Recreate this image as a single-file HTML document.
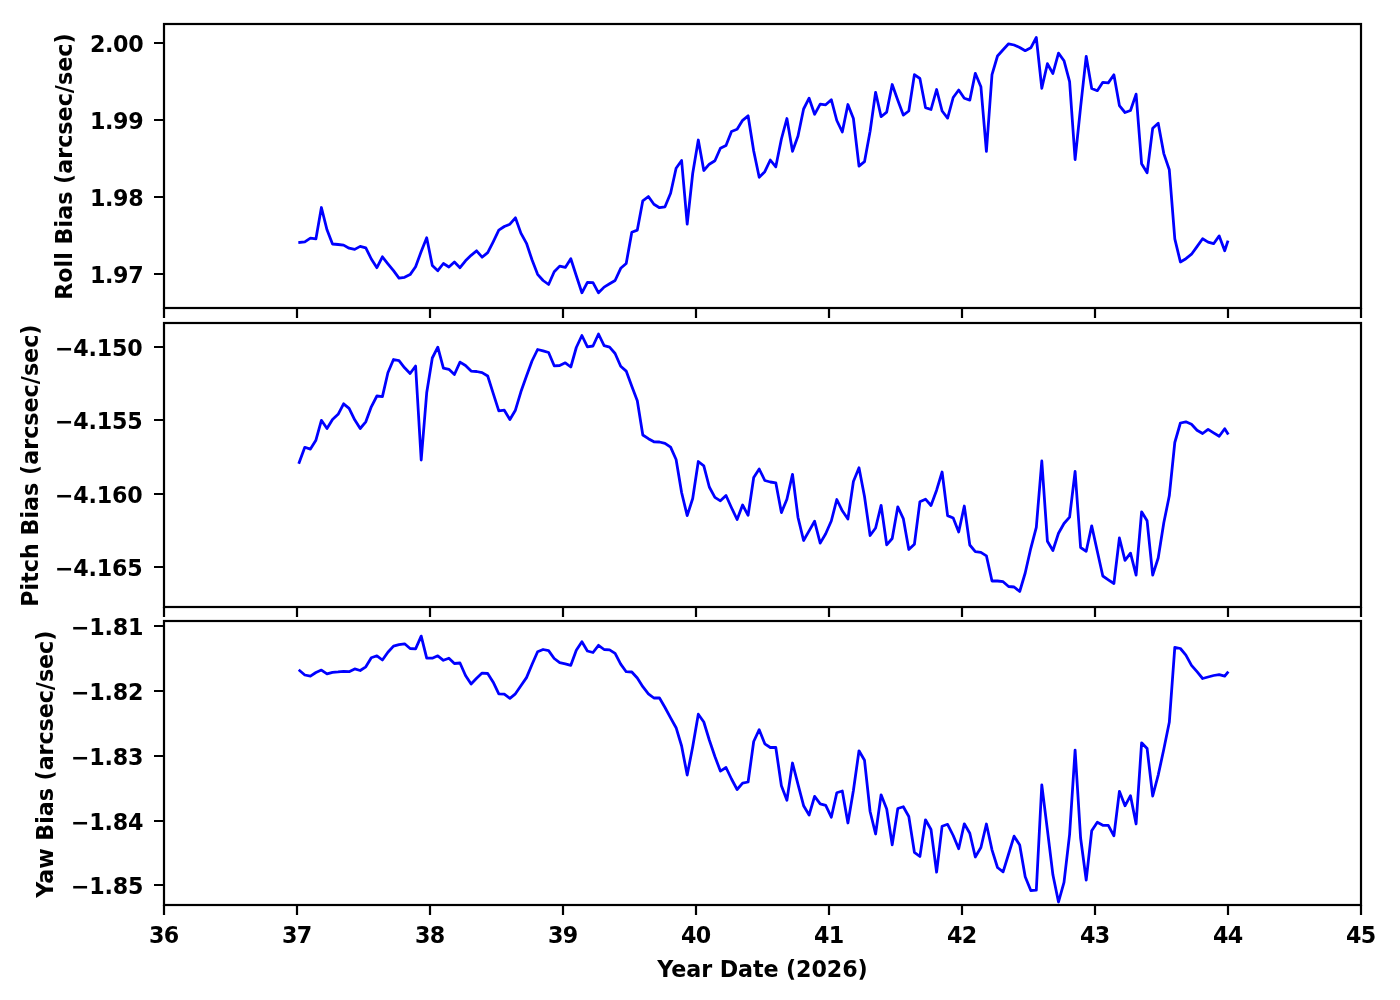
<!DOCTYPE html>
<html lang="en"><head><meta charset="utf-8"><title>Bias plots</title>
<style>html,body{margin:0;padding:0;background:#fff}body{width:1400px;height:1000px;overflow:hidden}svg{display:block}text{font-family:"DejaVu Sans","Liberation Sans",sans-serif;font-weight:bold;font-size:22.22px;fill:#000}.sp{stroke:#000;stroke-width:2.2;fill:none;stroke-linecap:square}.tk{stroke:#000;stroke-width:2.2;fill:none;stroke-linecap:butt}.ln{stroke:#0000ff;stroke-width:2.78;fill:none;stroke-linejoin:round;stroke-linecap:square}</style></head><body>
<svg width="1400" height="1000" viewBox="0 0 1400 1000">
<rect width="1400" height="1000" fill="#fff"/>
<polyline class="ln" points="299.7,242.4 304.8,241.8 310.4,238.2 315.9,238.9 321.4,207.5 327.0,229.8 332.5,244.0 338.1,244.5 343.6,245.1 349.1,248.2 354.7,249.4 360.2,246.4 365.8,247.8 371.3,259.0 376.9,267.7 382.4,256.8 387.9,263.8 393.5,270.7 399.0,278.1 404.6,277.3 410.1,274.6 415.6,266.8 421.2,251.5 426.7,237.8 432.3,265.5 437.8,270.7 443.4,263.5 448.9,267.0 454.4,262.0 460.0,267.7 465.5,260.8 471.1,255.3 476.6,250.8 482.1,257.2 487.7,252.7 493.2,241.8 498.8,230.2 504.3,226.5 509.9,224.2 515.4,217.8 520.9,233.1 526.5,243.3 532.0,259.8 537.6,274.3 543.1,280.5 548.6,284.5 554.2,271.8 559.7,266.1 565.3,267.4 570.8,258.7 576.3,275.8 581.9,292.8 587.4,282.3 593.0,282.7 598.5,292.8 604.1,287.1 609.6,283.8 615.1,280.5 620.7,268.3 626.2,263.5 631.8,232.3 637.3,230.1 642.8,200.8 648.4,196.5 653.9,204.3 659.5,207.7 665.0,206.8 670.6,193.3 676.1,168.3 681.6,160.5 687.2,224.1 692.7,173.5 698.3,140.0 703.8,170.5 709.3,164.2 714.9,160.8 720.4,148.3 726.0,145.5 731.5,131.5 737.1,129.3 742.6,120.3 748.1,115.8 753.7,151.0 759.2,177.3 764.8,171.7 770.3,160.0 775.8,166.8 781.4,139.0 786.9,118.5 792.5,151.3 798.0,136.0 803.6,109.0 809.1,98.2 814.6,114.3 820.2,104.2 825.7,104.8 831.3,99.7 836.8,120.5 842.3,132.0 847.9,104.5 853.4,118.5 859.0,166.1 864.5,161.7 870.1,131.3 875.6,92.3 881.1,116.7 886.7,112.1 892.2,84.5 897.8,100.2 903.3,115.1 908.8,111.0 914.4,74.6 919.9,78.5 925.5,107.6 931.0,109.5 936.6,89.5 942.1,111.0 947.6,118.1 953.2,97.5 958.7,90.0 964.3,98.3 969.8,100.1 975.3,73.3 980.9,86.7 986.4,151.3 992.0,74.6 997.5,56.0 1003.1,49.8 1008.6,43.8 1014.1,45.0 1019.7,47.5 1025.2,50.7 1030.8,47.8 1036.3,37.5 1041.8,88.3 1047.4,63.7 1052.9,73.5 1058.5,53.1 1064.0,60.7 1069.6,81.7 1075.1,159.5 1080.6,107.2 1086.2,56.3 1091.7,88.5 1097.3,90.7 1102.8,82.3 1108.3,82.9 1113.9,74.8 1119.4,105.6 1125.0,112.5 1130.5,110.5 1136.1,94.1 1141.6,163.8 1147.1,172.8 1152.7,128.2 1158.2,123.2 1163.8,153.6 1169.3,169.8 1174.8,238.8 1180.4,262.0 1185.9,258.7 1191.5,254.2 1197.0,246.6 1202.6,238.8 1208.1,242.1 1213.6,243.7 1219.2,235.9 1224.7,250.8 1227.6,242.0"/>
<rect class="sp" x="164.00" y="24.00" width="1197.00" height="284.00"/>
<path class="tk" d="M164.00 308.00v10.00M297.00 308.00v10.00M430.00 308.00v10.00M563.00 308.00v10.00M696.00 308.00v10.00M829.00 308.00v10.00M962.00 308.00v10.00M1095.00 308.00v10.00M1228.00 308.00v10.00M1361.00 308.00v10.00M164.00 43.00h-10.00M164.00 120.00h-10.00M164.00 197.00h-10.00M164.00 274.00h-10.00"/>
<text x="90.10" y="51.90" textLength="53.5" lengthAdjust="spacing">2.00</text>
<text x="90.10" y="128.90" textLength="53.5" lengthAdjust="spacing">1.99</text>
<text x="90.10" y="205.90" textLength="53.5" lengthAdjust="spacing">1.98</text>
<text x="90.10" y="282.90" textLength="53.5" lengthAdjust="spacing">1.97</text>
<text transform="translate(72.10 166.60) rotate(-90)" text-anchor="middle">Roll Bias (arcsec/sec)</text>
<polyline class="ln" points="299.2,462.5 304.8,447.3 310.4,449.1 315.9,440.2 321.4,420.3 327.0,428.5 332.5,419.5 338.1,414.3 343.6,403.8 349.1,408.3 354.7,419.8 360.2,428.5 365.8,421.8 371.3,406.8 376.9,396.0 382.4,396.6 387.9,372.7 393.5,359.5 399.0,360.7 404.6,367.8 410.1,373.5 415.6,366.0 421.2,460.0 426.7,392.8 432.3,358.0 437.8,347.2 443.4,368.1 448.9,369.3 454.4,374.5 460.0,362.1 465.5,365.5 471.1,371.1 476.6,371.5 482.1,372.6 487.7,376.0 493.2,393.3 498.8,410.8 504.3,410.2 509.9,419.5 515.4,410.2 520.9,391.8 526.5,376.0 532.0,361.0 537.6,349.5 543.1,350.8 548.6,352.5 554.2,365.8 559.7,365.5 565.3,362.8 570.8,367.0 576.3,347.5 581.9,335.5 587.4,346.8 593.0,346.0 598.5,334.0 604.1,345.7 609.6,347.2 615.1,353.5 620.7,366.3 626.2,371.1 631.8,386.2 637.3,400.8 642.8,435.0 648.4,438.7 653.9,441.8 659.5,442.0 665.0,443.3 670.6,447.1 676.1,459.5 681.6,492.5 687.2,515.7 692.7,498.5 698.3,461.5 703.8,465.8 709.3,487.0 714.9,497.3 720.4,500.8 726.0,495.5 731.5,507.7 737.1,519.5 742.6,505.0 748.1,515.3 753.7,477.5 759.2,469.0 764.8,480.5 770.3,482.0 775.8,482.8 781.4,512.6 786.9,499.3 792.5,474.3 798.0,517.3 803.6,540.5 809.1,530.9 814.6,521.3 820.2,543.1 825.7,533.8 831.3,521.0 836.8,499.5 842.3,510.8 847.9,519.0 853.4,481.5 859.0,467.8 864.5,496.5 870.1,535.5 875.6,528.0 881.1,505.3 886.7,544.8 892.2,538.5 897.8,506.8 903.3,518.6 908.8,549.5 914.4,544.2 919.9,501.8 925.5,499.2 931.0,505.5 936.6,490.2 942.1,472.0 947.6,515.6 953.2,518.0 958.7,532.0 964.3,506.0 969.8,545.0 975.3,551.7 980.9,552.3 986.4,555.8 992.0,581.0 997.5,581.0 1003.1,581.7 1008.6,586.5 1014.1,587.0 1019.7,591.5 1025.2,573.0 1030.8,548.3 1036.3,527.3 1041.8,461.0 1047.4,541.2 1052.9,550.5 1058.5,533.3 1064.0,523.5 1069.6,517.1 1075.1,471.5 1080.6,547.5 1086.2,551.3 1091.7,525.8 1097.3,551.3 1102.8,576.0 1108.3,579.8 1113.9,583.5 1119.4,538.0 1125.0,560.3 1130.5,553.2 1136.1,575.2 1141.6,511.8 1147.1,520.8 1152.7,575.2 1158.2,558.0 1163.8,522.8 1169.3,495.8 1174.8,442.5 1180.4,423.0 1185.9,421.8 1191.5,424.2 1197.0,430.2 1202.6,433.5 1208.1,429.3 1213.6,432.8 1219.2,436.2 1224.7,428.7 1227.6,433.4"/>
<rect class="sp" x="164.00" y="323.00" width="1197.00" height="284.00"/>
<path class="tk" d="M164.00 607.00v10.00M297.00 607.00v10.00M430.00 607.00v10.00M563.00 607.00v10.00M696.00 607.00v10.00M829.00 607.00v10.00M962.00 607.00v10.00M1095.00 607.00v10.00M1228.00 607.00v10.00M1361.00 607.00v10.00M164.00 347.00h-10.00M164.00 420.00h-10.00M164.00 494.00h-10.00M164.00 567.00h-10.00"/>
<text x="54.90" y="356.30" textLength="87.8" lengthAdjust="spacing">−4.150</text>
<text x="54.90" y="429.00" textLength="87.8" lengthAdjust="spacing">−4.155</text>
<text x="54.90" y="502.70" textLength="87.8" lengthAdjust="spacing">−4.160</text>
<text x="54.90" y="576.30" textLength="87.8" lengthAdjust="spacing">−4.165</text>
<text transform="translate(38.20 465.60) rotate(-90)" text-anchor="middle">Pitch Bias (arcsec/sec)</text>
<polyline class="ln" points="299.8,670.7 304.8,675.0 310.4,676.1 315.9,672.5 321.4,670.1 327.0,673.8 332.5,672.3 338.1,671.9 343.6,671.3 349.1,671.7 354.7,668.9 360.2,670.5 365.8,666.8 371.3,657.8 376.9,655.8 382.4,660.0 387.9,652.2 393.5,646.1 399.0,644.6 404.6,643.8 410.1,648.5 415.6,648.9 421.2,636.1 426.7,658.2 432.3,658.2 437.8,655.8 443.4,660.3 448.9,658.2 454.4,663.5 460.0,663.0 465.5,675.5 471.1,684.0 476.6,678.3 482.1,673.1 487.7,673.5 493.2,682.2 498.8,693.9 504.3,694.2 509.9,698.3 515.4,693.8 520.9,685.8 526.5,677.6 532.0,664.5 537.6,651.8 543.1,649.5 548.6,650.6 554.2,658.5 559.7,662.7 565.3,663.8 570.8,665.3 576.3,650.3 581.9,641.7 587.4,651.0 593.0,652.5 598.5,645.3 604.1,649.5 609.6,649.8 615.1,653.3 620.7,664.1 626.2,671.7 631.8,672.0 637.3,678.0 642.8,686.7 648.4,693.8 653.9,698.0 659.5,698.0 665.0,707.5 670.6,717.8 676.1,727.7 681.6,746.0 687.2,775.1 692.7,746.8 698.3,714.2 703.8,722.0 709.3,740.0 714.9,756.5 720.4,771.1 726.0,767.5 731.5,779.0 737.1,789.5 742.6,783.1 748.1,782.0 753.7,741.5 759.2,729.7 764.8,743.8 770.3,747.5 775.8,747.5 781.4,785.8 786.9,800.3 792.5,763.0 798.0,784.3 803.6,805.7 809.1,815.0 814.6,796.3 820.2,803.8 825.7,805.3 831.3,817.2 836.8,792.8 842.3,791.0 847.9,823.0 853.4,790.5 859.0,750.8 864.5,760.2 870.1,811.5 875.6,834.0 881.1,794.8 886.7,809.0 892.2,844.8 897.8,808.5 903.3,806.7 908.8,816.5 914.4,852.3 919.9,856.5 925.5,819.8 931.0,829.5 936.6,872.2 942.1,826.2 947.6,824.3 953.2,835.5 958.7,848.8 964.3,823.8 969.8,833.3 975.3,857.0 980.9,847.5 986.4,824.0 992.0,849.8 997.5,867.5 1003.1,871.8 1008.6,854.0 1014.1,836.2 1019.7,845.1 1025.2,876.7 1030.8,890.5 1036.3,890.2 1041.8,784.8 1047.4,829.8 1052.9,874.8 1058.5,902.0 1064.0,882.3 1069.6,834.3 1075.1,750.1 1080.6,838.0 1086.2,880.0 1091.7,830.8 1097.3,822.3 1102.8,825.3 1108.3,825.3 1113.9,835.8 1119.4,791.3 1125.0,805.8 1130.5,795.7 1136.1,824.0 1141.6,742.8 1147.1,748.5 1152.7,796.0 1158.2,775.1 1163.8,749.3 1169.3,722.3 1174.8,647.3 1180.4,648.5 1185.9,655.2 1191.5,665.3 1197.0,671.7 1202.6,678.5 1208.1,677.0 1213.6,675.5 1219.2,674.6 1224.7,676.1 1227.5,672.6"/>
<rect class="sp" x="164.00" y="621.00" width="1197.00" height="284.00"/>
<path class="tk" d="M164.00 905.00v10.00M297.00 905.00v10.00M430.00 905.00v10.00M563.00 905.00v10.00M696.00 905.00v10.00M829.00 905.00v10.00M962.00 905.00v10.00M1095.00 905.00v10.00M1228.00 905.00v10.00M1361.00 905.00v10.00M164.00 626.00h-10.00M164.00 691.00h-10.00M164.00 756.00h-10.00M164.00 821.00h-10.00M164.00 885.00h-10.00"/>
<text x="71.00" y="635.00" textLength="72.4" lengthAdjust="spacing">−1.81</text>
<text x="71.00" y="699.80" textLength="72.4" lengthAdjust="spacing">−1.82</text>
<text x="71.00" y="764.60" textLength="72.4" lengthAdjust="spacing">−1.83</text>
<text x="71.00" y="829.50" textLength="72.4" lengthAdjust="spacing">−1.84</text>
<text x="71.00" y="894.20" textLength="72.4" lengthAdjust="spacing">−1.85</text>
<text transform="translate(53.20 764.20) rotate(-90)" x="-133.55" textLength="267.1" lengthAdjust="spacing">Yaw Bias (arcsec/sec)</text>
<text x="148.90" y="942.50" textLength="30.2" lengthAdjust="spacing">36</text>
<text x="281.90" y="942.50" textLength="30.2" lengthAdjust="spacing">37</text>
<text x="414.90" y="942.50" textLength="30.2" lengthAdjust="spacing">38</text>
<text x="547.90" y="942.50" textLength="30.2" lengthAdjust="spacing">39</text>
<text x="680.90" y="942.50" textLength="30.2" lengthAdjust="spacing">40</text>
<text x="813.90" y="942.50" textLength="30.2" lengthAdjust="spacing">41</text>
<text x="946.90" y="942.50" textLength="30.2" lengthAdjust="spacing">42</text>
<text x="1079.90" y="942.50" textLength="30.2" lengthAdjust="spacing">43</text>
<text x="1212.90" y="942.50" textLength="30.2" lengthAdjust="spacing">44</text>
<text x="1345.90" y="942.50" textLength="30.2" lengthAdjust="spacing">45</text>
<text x="657.30" y="977.00" textLength="210.4" lengthAdjust="spacing">Year Date (2026)</text>
</svg></body></html>
